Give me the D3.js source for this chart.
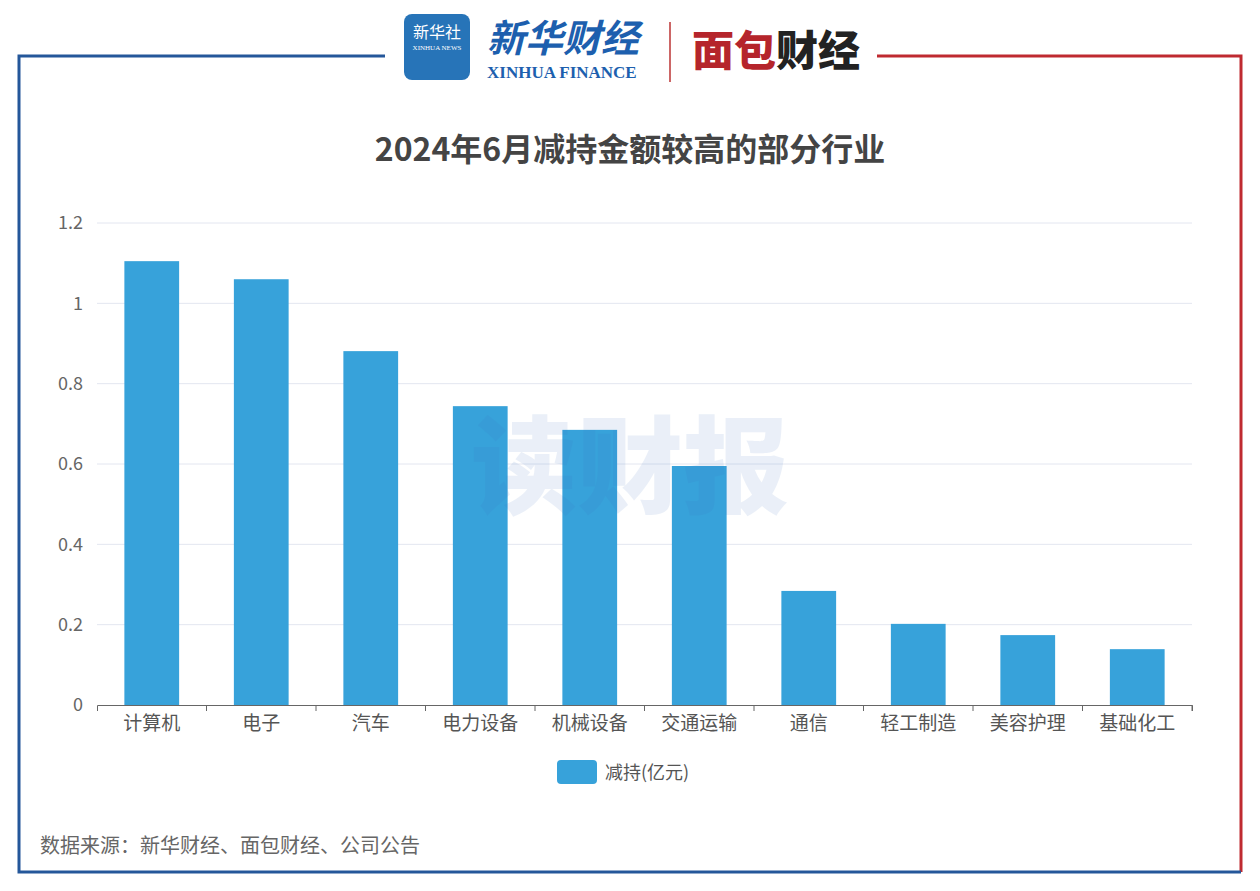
<!DOCTYPE html>
<html><head><meta charset="utf-8">
<script src="https://cdn.jsdelivr.net/npm/d3@7"></script>
<style>body{margin:0;background:#fff;font-family:"Noto Sans CJK SC","Noto Sans",sans-serif}</style>
</head><body><div id="chart"></div>
<script>
const categories = ["计算机", "电子", "汽车", "电力设备", "机械设备", "交通运输", "通信", "轻工制造", "美容护理", "基础化工"];
const values = [1.105, 1.06, 0.881, 0.744, 0.685, 0.595, 0.284, 0.202, 0.174, 0.139];
const yTicks = [0, 0.2, 0.4, 0.6, 0.8, 1, 1.2];

const width = 1260, height = 891;
const svg = d3.select("#chart").append("svg").attr("width", width).attr("height", height);
const font = '"Noto Sans CJK SC", sans-serif';

// frame
svg.append("path").attr("d", "M385,56 H19 V872 H630").attr("fill", "none").attr("stroke", "#24579a").attr("stroke-width", 3);
svg.append("path").attr("d", "M877,56 H1241 V872").attr("fill", "none").attr("stroke", "#bf2a30").attr("stroke-width", 3);
svg.append("line").attr("x1", 630).attr("x2", 1241).attr("y1", 872).attr("y2", 872).attr("stroke", "#24579a").attr("stroke-width", 3);

// logos
svg.append("rect").attr("x", 404).attr("y", 14).attr("width", 66).attr("height", 66).attr("rx", 8).attr("fill", "#2774b8");
svg.append("text").attr("x", 437).attr("y", 38).attr("text-anchor", "middle").attr("fill", "#fff").attr("font-family", font).attr("font-size", 16).text("新华社");
svg.append("text").attr("x", 437).attr("y", 50).attr("text-anchor", "middle").attr("fill", "#fff").attr("font-family", "Liberation Serif").attr("font-size", 7).text("XINHUA NEWS");
svg.append("text").attr("x", 487).attr("y", 52).attr("fill", "#1d5fae").attr("font-family", font).attr("font-weight", "bold").attr("font-style", "italic").attr("font-size", 38).text("新华财经");
svg.append("text").attr("x", 487).attr("y", 78).attr("fill", "#1d5fae").attr("font-family", "Liberation Serif").attr("font-weight", "bold").attr("font-size", 17).text("XINHUA FINANCE");
svg.append("line").attr("x1", 670).attr("x2", 670).attr("y1", 22).attr("y2", 82).attr("stroke", "#b33").attr("stroke-width", 1.5);
svg.append("text").attr("x", 692).attr("y", 66).attr("fill", "#b5252b").attr("font-family", font).attr("font-weight", "900").attr("font-size", 42).text("面包");
svg.append("text").attr("x", 776).attr("y", 66).attr("fill", "#222").attr("font-family", font).attr("font-weight", "900").attr("font-size", 42).text("财经");

// title
svg.append("text").attr("x", 630).attr("y", 161).attr("text-anchor", "middle").attr("fill", "#444").attr("font-family", font).attr("font-weight", "bold").attr("font-size", 32).text("2024年6月减持金额较高的部分行业");

const x = d3.scaleBand().domain(categories).range([97, 1192]).paddingInner(0.5).paddingOuter(0.25);
const y = d3.scaleLinear().domain([0, 1.2]).range([705, 223]);

svg.append("g").selectAll("line").data(yTicks.slice(1)).join("line")
	.attr("x1", 97).attr("x2", 1192).attr("y1", d => y(d)).attr("y2", d => y(d))
	.attr("stroke", "#e3e6f0").attr("stroke-width", 1);

svg.append("g").attr("transform", "translate(97,0)")
	.call(d3.axisLeft(y).tickValues(yTicks).tickFormat(d => String(d)).tickSize(0).tickPadding(14))
	.call(g => g.select(".domain").remove())
	.selectAll("text").attr("font-family", font).attr("font-size", 18).attr("fill", "#666");

svg.append("g").selectAll("rect").data(values).join("rect")
	.attr("x", (d, i) => x(categories[i])).attr("width", x.bandwidth())
	.attr("y", d => y(d)).attr("height", d => y(0) - y(d)).attr("fill", "#37a2da");

const xb = d3.scaleBand().domain(categories).range([97, 1192]);
svg.append("g").attr("transform", "translate(0,705)")
	.call(d3.axisBottom(xb).tickSize(6).tickPadding(6))
	.call(g => g.selectAll("line,path").attr("stroke", "#666"))
	.call(g => g.selectAll(".tick line").attr("transform", `translate(${xb.bandwidth() / 2},0)`))
	.selectAll("text").attr("font-family", font).attr("font-size", 19).attr("fill", "#555");

// watermark
svg.append("text").attr("x", 630).attr("y", 505).attr("text-anchor", "middle").attr("fill", "#3a6fc0").attr("opacity", 0.1)
	.attr("font-family", font).attr("font-weight", "900").attr("font-size", 106).text("读财报");

// legend
svg.append("rect").attr("x", 557).attr("y", 760).attr("width", 40).attr("height", 24).attr("rx", 4).attr("fill", "#37a2da");
svg.append("text").attr("x", 605).attr("y", 779).attr("fill", "#555").attr("font-family", font).attr("font-size", 18).text("减持(亿元)");

svg.append("text").attr("x", 40).attr("y", 853).attr("fill", "#666").attr("font-family", font).attr("font-size", 20).text("数据来源：新华财经、面包财经、公司公告");
</script></body></html>
